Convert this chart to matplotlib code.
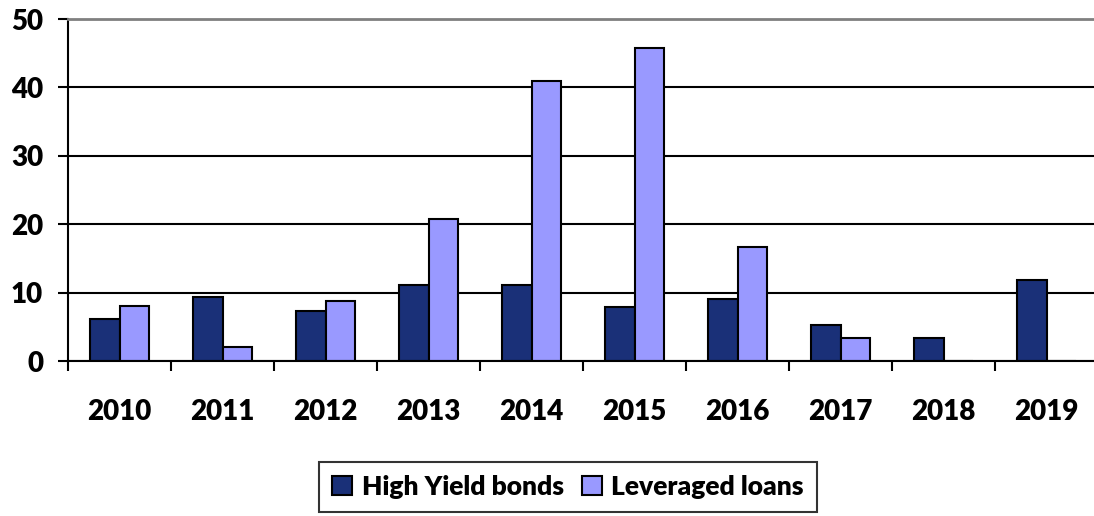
import matplotlib
matplotlib.use("Agg")
import matplotlib.pyplot as plt
import numpy as np

plt.rcParams['font.family'] = ['Lato', 'DejaVu Sans']

years = ["2010", "2011", "2012", "2013", "2014", "2015", "2016", "2017", "2018", "2019"]
high_yield = [6.1, 9.4, 7.3, 11.1, 11.1, 7.9, 9.0, 5.2, 3.3, 11.9]
leveraged = [8.1, 2.1, 8.8, 20.7, 41.0, 45.8, 16.7, 3.3, 0.0, 0.0]
yticks = [0, 10, 20, 30, 40, 50]

W, H = 1094, 516
fig = plt.figure(figsize=(W / 100, H / 100), dpi=100)
ax = fig.add_axes([68 / W, (H - 361) / H, 1030 / W, 342 / H])

x = np.arange(len(years))
bw = 0.29
ax.bar(x - bw / 2, high_yield, bw, color='#1a3078', edgecolor='black', linewidth=1.5,
       label='High Yield bonds', zorder=3)
ax.bar(x + bw / 2, leveraged, bw, color='#9999ff', edgecolor='black', linewidth=1.5,
       label='Leveraged loans', zorder=3)

ax.set_xlim(-0.5, len(years) - 0.5)
ax.set_ylim(0, 50)
ax.set_yticks(yticks)
ax.set_yticklabels([str(v) for v in yticks], fontsize=20, fontweight='heavy')
ax.set_xticks(x)
ax.set_xticklabels(years, fontsize=20, fontweight='heavy')
ax.set_xticks(np.arange(-0.5, len(years), 1.0), minor=True)
ax.tick_params(axis='x', which='major', length=0, pad=27)
ax.tick_params(axis='x', which='minor', length=7, width=1.5, direction='out')
ax.tick_params(axis='y', length=7, width=1.5, direction='out', pad=11)

ax.set_axisbelow(True)
ax.yaxis.grid(True, color='black', linewidth=1.5)
ax.spines['right'].set_visible(False)
ax.spines['top'].set_color('#808080')
ax.spines['top'].set_linewidth(2)
ax.spines['top'].set_zorder(5)
ax.spines['left'].set_linewidth(1.5)
ax.spines['bottom'].set_linewidth(1.5)
ax.spines['bottom'].set_zorder(5)

leg = fig.legend(loc='center', bbox_to_anchor=(568 / W, (H - 487) / H), ncol=2,
                 prop={'size': 19, 'weight': 'heavy'}, frameon=True, fancybox=False,
                 edgecolor='black', handlelength=0.75, handleheight=0.75,
                 handletextpad=0.35, columnspacing=0.7, borderpad=0.5)
leg.get_frame().set_linewidth(1.5)

fig.savefig('out.png', dpi=100)
